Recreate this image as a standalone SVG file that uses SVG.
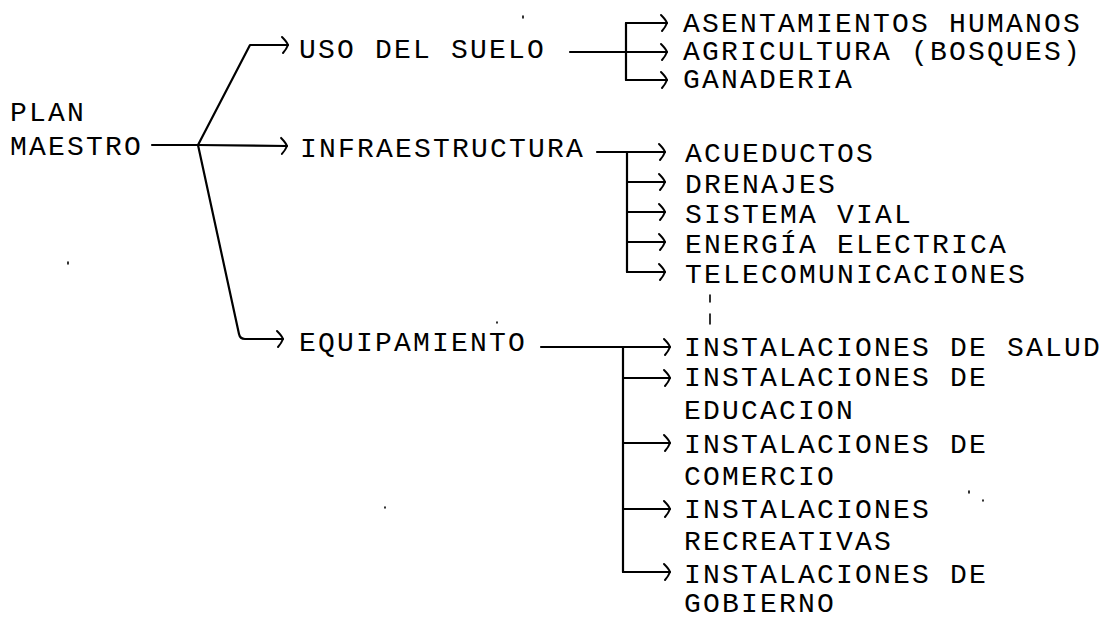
<svg xmlns="http://www.w3.org/2000/svg" width="1117" height="618" viewBox="0 0 1117 618">
<style>
text{font-family:"Liberation Mono","DejaVu Sans Mono",monospace;font-size:28px;letter-spacing:2.2px;fill:#000}
.c{fill:none;stroke:#000;stroke-width:2.2;stroke-linecap:round;stroke-linejoin:round}
.a{marker-end:url(#ah)}
.sp{fill:none;stroke:#000;stroke-width:1.6;stroke-linecap:round}
</style>
<defs>
<marker id="ah" markerUnits="userSpaceOnUse" markerWidth="20" markerHeight="20" viewBox="-10 -10 20 20" refX="0" refY="0" orient="auto" overflow="visible">
<path d="M-6,-8 Q-1,-3 0,0 Q-1.5,4 -5,8" fill="none" stroke="#000" stroke-width="2" stroke-linecap="round"/>
</marker>
</defs>
<rect width="1117" height="618" fill="#fff"/>
<g id="connectors">
<path class="c" d="M152,145 L198,145"/>
<path class="c a" d="M198,145 L287,146"/>
<path class="c a" d="M198,145 L250,45 L288,45"/>
<path class="c a" d="M198,145 L239,334 Q240,339 245,339 L283,339"/>
<path class="c" d="M570,52 L626,52"/>
<path class="c" d="M626,23 L626,80"/>
<path class="c a" d="M626,23 L667,23"/>
<path class="c a" d="M626,52 L667,52"/>
<path class="c a" d="M626,80 L667,80"/>
<path class="c" d="M597,152 L627,152"/>
<path class="c" d="M627,152 L627,272"/>
<path class="c a" d="M627,152 L665,152"/>
<path class="c a" d="M627,182 L665,182"/>
<path class="c a" d="M627,212 L665,212"/>
<path class="c a" d="M627,242 L665,242"/>
<path class="c a" d="M627,272 L665,272"/>
<path class="c" d="M541,347 L623,347"/>
<path class="c" d="M623,347 L623,572"/>
<path class="c a" d="M623,347 L670,347"/>
<path class="c a" d="M623,378 L670,378"/>
<path class="c a" d="M623,443 L670,443"/>
<path class="c a" d="M623,509 L670,509"/>
<path class="c a" d="M623,572 L670,572"/>
</g>
<g id="n-plan"><text x="10" y="121">PLAN</text><text x="10" y="155">MAESTRO</text></g>
<g id="n-uso"><text x="299" y="58">USO DEL SUELO</text></g>
<g id="n-infra"><text x="300" y="157">INFRAESTRUCTURA</text></g>
<g id="n-equip"><text x="299" y="351">EQUIPAMIENTO</text></g>
<g id="n-asent"><text x="683" y="32">ASENTAMIENTOS HUMANOS</text></g>
<g id="n-agri"><text x="683" y="60">AGRICULTURA (BOSQUES)</text></g>
<g id="n-gana"><text x="683" y="88">GANADERIA</text></g>
<g id="n-acue"><text x="685" y="162">ACUEDUCTOS</text></g>
<g id="n-dren"><text x="685" y="193">DRENAJES</text></g>
<g id="n-sist"><text x="685" y="223">SISTEMA VIAL</text></g>
<g id="n-ener"><text x="685" y="253">ENERGÍA ELECTRICA</text></g>
<g id="n-tele"><text x="685" y="283">TELECOMUNICACIONES</text></g>
<g id="n-salud"><text x="684" y="356">INSTALACIONES DE SALUD</text></g>
<g id="n-educ"><text x="684" y="386">INSTALACIONES DE</text><text x="684" y="419">EDUCACION</text></g>
<g id="n-com"><text x="684" y="453">INSTALACIONES DE</text><text x="684" y="485">COMERCIO</text></g>
<g id="n-rec"><text x="684" y="518">INSTALACIONES</text><text x="684" y="550">RECREATIVAS</text></g>
<g id="n-gob"><text x="684" y="583">INSTALACIONES DE</text><text x="684" y="612">GOBIERNO</text></g>
<g id="specks">
<path class="sp" d="M710,295 L710,302 M710,314 L710,324"/>
<path class="sp" d="M523,16 L523,18 M68,262 L68,264 M497,322 L497,323 M385,507 L385,508 M969,491 L969,493 M983,500 L983,501"/>
</g>
</svg>
